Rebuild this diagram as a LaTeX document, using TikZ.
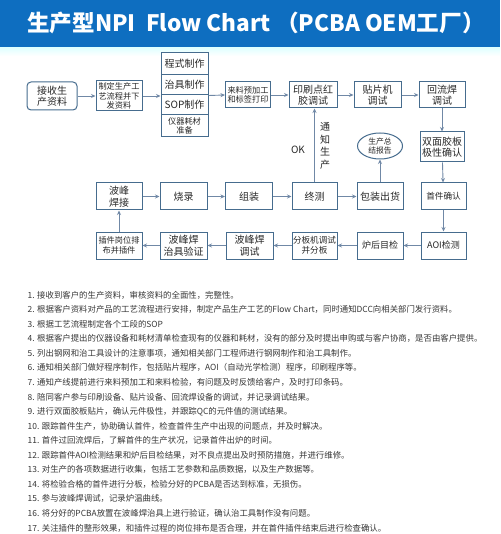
\documentclass[tikz,border=0pt]{standalone}
\usepackage{fontspec}
\setmainfont{Noto Sans CJK SC}
\usetikzlibrary{arrows.meta,shapes.geometric,calc}
\definecolor{titlec}{RGB}{14,110,192}
\definecolor{bordc}{RGB}{70,108,142}
\definecolor{arrc}{RGB}{112,136,166}
\definecolor{txtc}{RGB}{40,40,40}
\definecolor{listc}{RGB}{55,55,55}
\begin{document}
\begin{tikzpicture}[x=1pt,y=-1pt,
  box/.style={draw=bordc,line width=1pt,fill=white,align=center,inner sep=1pt,text=txtc,minimum width=46pt,minimum height=27pt,font=\fontsize{10}{11.5}\selectfont},
  sbox/.style={box,font=\fontsize{8.2}{9.6}\selectfont},
  arr/.style={draw=arrc,line width=0.9pt,-{Stealth[length=4.5pt,width=4pt]}},
  li/.style={anchor=west,inner sep=0pt,text=listc,font=\fontsize{8.4}{10}\selectfont}]
\useasboundingbox (0,0) rectangle (500,534);
\fill[white] (0,0) rectangle (500,534);
\fill[titlec] (0,0) rectangle (500,48);
\shade[top color=cyan!12, bottom color=white] (0,48) rectangle (500,56);
\node[anchor=west,text=white,font=\fontsize{22.6}{24}\selectfont\bfseries,inner sep=0pt] (title) at (27,23) {生产型NPI\ \ Flow Chart （PCBA OEM工厂）};

% top row
\node[box,rounded corners=4pt,minimum width=50pt,minimum height=28pt] (recv) at (52,96) {接收生\\产资料};
\node[sbox,minimum height=30pt] (plan) at (119,96) {制定生产工\\艺流程并下\\发资料};
\node[box,minimum width=47pt,minimum height=22pt] (prog) at (184.5,64) {程式制作};
\node[box,minimum width=47pt,minimum height=20pt] (jig) at (184.5,85) {治具制作};
\node[box,minimum width=47pt,minimum height=20pt] (sop) at (184.5,105) {SOP制作};
\node[sbox,minimum width=47pt,minimum height=22pt] (instr) at (184.5,126) {仪器耗材\\准备};
\node[sbox,minimum width=45pt,minimum height=26pt] (prep) at (248,95) {来料预加工\\和标签打印};
\node[box,minimum width=48pt,minimum height=26pt] (print) at (313,95) {印刷点红\\胶调试};
\node[box,minimum width=47pt,minimum height=26pt] (smt) at (377.5,95) {贴片机\\调试};
\node[box,minimum height=26pt] (reflow) at (442,95) {回流焊\\调试};
\node[box,minimum width=44pt,minimum height=30pt] (dual) at (442,147) {双面胶板\\极性确认};
\node[ellipse,draw=bordc,line width=1pt,fill=white,text=txtc,minimum width=45pt,minimum height=26pt,inner sep=0pt,align=center,font=\fontsize{7.8}{9}\selectfont] (report) at (380,146) {生产总\\结报告};

% middle row
\node[box] (wave) at (119,196.5) {波峰\\焊接};
\node[box,minimum width=47pt] (burn) at (183.5,196.5) {烧录};
\node[box,minimum width=47pt] (asm) at (249,196.5) {组装};
\node[box,minimum width=45pt] (final) at (314.5,196.5) {终测};
\node[box] (pack) at (380,196.5) {包装出货};
\node[box,minimum width=45pt,font=\fontsize{8.6}{10}\selectfont] (first) at (443.5,196.5) {首件确认};

% bottom row
\node[sbox] (insert) at (119,245.5) {插件岗位排\\布并插件};
\node[box,minimum width=47pt] (fixture) at (183.5,245.5) {波峰焊\\治具验证};
\node[box,minimum width=47pt] (wavedbg) at (249.5,245.5) {波峰焊\\调试};
\node[sbox,minimum width=45pt,font=\fontsize{8.6}{10}\selectfont] (split) at (314.5,245.5) {分板机调试\\并分板};
\node[box,font=\fontsize{9}{10}\selectfont] (visual) at (380,245.5) {炉后目检};
\node[box,minimum width=45pt,font=\fontsize{9}{10}\selectfont] (aoi) at (443.5,245.5) {AOI检测};

% labels
\node[text=txtc,font=\fontsize{10}{12}\selectfont] (ok) at (298,150) {OK};
\node[text=txtc,align=center,font=\fontsize{10}{12.5}\selectfont] (notify) at (325,146) {通\\知\\生\\产};

% connectors
\draw[arr] (recv) -- (plan);
\draw[arr] (plan.east) -- (plan.east -| jig.west);
\draw[arr] (jig.south east) -- (prep.west);
\draw[arr] (prep) -- (print);
\draw[arr] (print) -- (smt);
\draw[arr] (smt) -- (reflow);
\draw[arr] (reflow) -- (dual);
\draw[arr] (dual) -- (first);
\draw[arr] (first) -- (aoi);
\draw[arr] (aoi) -- (visual);
\draw[arr] (visual) -- (split);
\draw[arr] (split) -- (wavedbg);
\draw[arr] (wavedbg) -- (fixture);
\draw[arr] (fixture) -- (insert);
\draw[arr] (insert) -- (wave);
\draw[arr] (wave) -- (burn);
\draw[arr] (burn) -- (asm);
\draw[arr] (asm) -- (final);
\draw[arr] (final) -- (pack);
\draw[arr] (final.north) -- (final.north |- print.south);
\draw[arr] (pack) -- (report);

% list
\node[li] (l1) at (27.5,295) {1. 接收到客户的生产资料，审核资料的全面性，完整性。};
\node[li] (l2) at (27.5,309.56) {2. 根据客户资料对产品的工艺流程进行安排，制定产品生产工艺的Flow Chart，同时通知DCC向相关部门发行资料。};
\node[li] (l3) at (27.5,324.12) {3. 根据工艺流程制定各个工段的SOP};
\node[li] (l4) at (27.5,338.68) {4. 根据客户提出的仪器设备和耗材清单检查现有的仪器和耗材，没有的部分及时提出申购或与客户协商，是否由客户提供。};
\node[li] (l5) at (27.5,353.24) {5. 列出钢网和治工具设计的注意事项，通知相关部门工程师进行钢网制作和治工具制作。};
\node[li] (l6) at (27.5,367.8) {6. 通知相关部门做好程序制作，包括贴片程序，AOI（自动光学检测）程序，印刷程序等。};
\node[li] (l7) at (27.5,382.36) {7. 通知产线提前进行来料预加工和来料检验，有问题及时反馈给客户，及时打印条码。};
\node[li] (l8) at (27.5,396.92) {8. 陪同客户参与印刷设备、贴片设备、回流焊设备的调试，并记录调试结果。};
\node[li] (l9) at (27.5,411.48) {9. 进行双面胶板贴片，确认元件极性，并跟踪QC的元件值的测试结果。};
\node[li] (l10) at (27.5,426.04) {10. 跟踪首件生产，协助确认首件，检查首件生产中出现的问题点，并及时解决。};
\node[li] (l11) at (27.5,440.6) {11. 首件过回流焊后，了解首件的生产状况，记录首件出炉的时间。};
\node[li] (l12) at (27.5,455.16) {12. 跟踪首件AOI检测结果和炉后目检结果，对不良点提出及时预防措施，并进行维修。};
\node[li] (l13) at (27.5,469.72) {13. 对生产的各项数据进行收集，包括工艺参数和品质数据，以及生产数据等。};
\node[li] (l14) at (27.5,484.28) {14. 将检验合格的首件进行分板，检验分好的PCBA是否达到标准，无损伤。};
\node[li] (l15) at (27.5,498.84) {15. 参与波峰焊调试，记录炉温曲线。};
\node[li] (l16) at (27.5,513.4) {16. 将分好的PCBA放置在波峰焊治具上进行验证，确认治工具制作没有问题。};
\node[li] (l17) at (27.5,527.96) {17. 关注插件的整形效果，和插件过程的岗位排布是否合理，并在首件插件结束后进行检查确认。};
\end{tikzpicture}
\end{document}
